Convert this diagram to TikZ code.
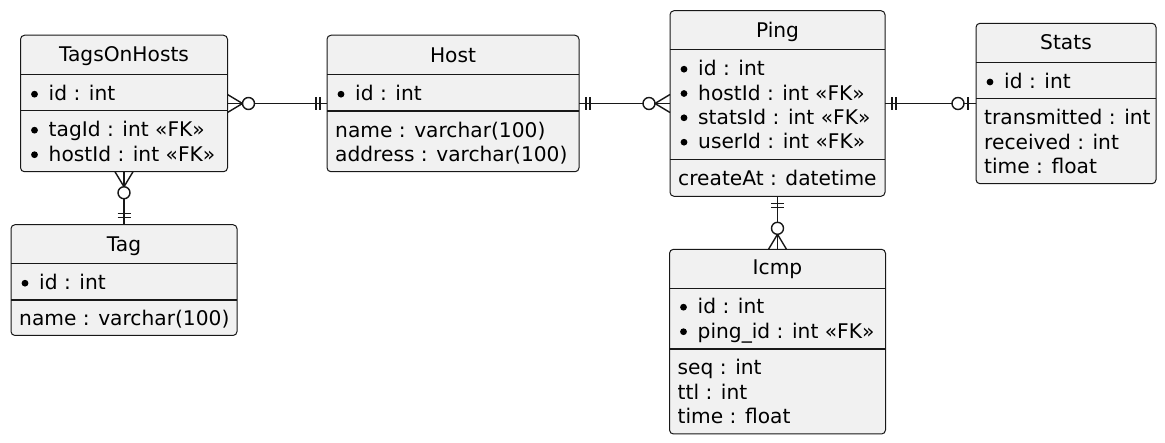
\documentclass[tikz,border=0pt]{standalone}
\usepackage{fontspec}
\setmainfont{DejaVu Sans}
\definecolor{boxfill}{HTML}{F1F1F1}
\definecolor{boxline}{HTML}{181818}
\tikzset{
 ent/.style={draw=boxline, fill=boxfill, line width=1pt, rounded corners=4pt, inner sep=0pt, outer sep=0pt, anchor=north west},
 ttl/.style={anchor=base, inner sep=0pt, font=\fontsize{20.2}{24}\selectfont},
 row/.style={anchor=base west, inner sep=0pt, font=\fontsize{20.2}{24}\selectfont},
 tsep/.style={draw=boxline, line width=0.8pt},
 ssep/.style={draw=boxline, line width=1.4pt},
 conn/.style={draw=boxline, line width=1.4pt},
 dot/.style={fill=black}
}
\newcommand\krow[4]{\fill[dot] (#2+14,#3-6.8) circle[radius=3.4pt]; \node[row] (#1) at (#2+28,#3) {#4};}
\newcommand\prow[4]{\node[row] (#1) at (#2+8,#3) {#4};}
\newcommand\zmany[3]{\begin{scope}[shift={(#1)},x={(#2)},y={(#3)}]
 \draw[conn] (0,-9) -- (15,0) -- (0,9);
 \draw[conn,fill=white] (21,0) circle[radius=6pt];
\end{scope}}
\newcommand\oone[3]{\begin{scope}[shift={(#1)},x={(#2)},y={(#3)}]
 \draw[conn] (7,-6.5) -- (7,6.5) (11,-6.5) -- (11,6.5);
\end{scope}}
\newcommand\zone[3]{\begin{scope}[shift={(#1)},x={(#2)},y={(#3)}]
 \draw[conn] (8,-6.5) -- (8,6.5);
 \draw[conn,fill=white] (18,0) circle[radius=6pt];
\end{scope}}
\begin{document}
\begin{tikzpicture}[x=1pt,y=-1pt]
\fill[white] (0,0) rectangle (1165,443);
\useasboundingbox (0,0) rectangle (1165,443);

% TagsOnHosts
\node[ent, minimum width=207pt, minimum height=136.5pt] (toh) at (20.5,35.25) {};
\node[ttl] (toh-t) at (124,62) {TagsOnHosts};
\draw[tsep] (20.5,74) -- (227.5,74);
\krow{toh-1}{20.5}{101}{id : int}
\draw[ssep] (20.5,110.7) -- (227.5,110.7);
\krow{toh-2}{20.5}{137}{tagId : int «FK»}
\krow{toh-3}{20.5}{161.5}{hostId : int «FK»}

% Host
\node[ent, minimum width=252pt, minimum height=136.5pt] (host) at (327,35.25) {};
\node[ttl] (host-t) at (453,62.3) {Host};
\draw[tsep] (327,74) -- (579,74);
\krow{host-1}{327}{101}{id : int}
\draw[ssep] (327,111) -- (579,111);
\prow{host-2}{327}{137.3}{name : varchar(100)}
\prow{host-3}{327}{161.8}{address : varchar(100)}

% Tag
\node[ent, minimum width=226pt, minimum height=110.8pt] (tag) at (11,224.7) {};
\node[ttl] (tag-t) at (124,251.3) {Tag};
\draw[tsep] (11,263.3) -- (237,263.3);
\krow{tag-1}{11}{290}{id : int}
\draw[ssep] (11,300) -- (237,300);
\prow{tag-2}{11}{326}{name : varchar(100)}

% Ping
\node[ent, minimum width=215pt, minimum height=185.6pt] (ping) at (670,10.7) {};
\node[ttl] (ping-t) at (777.5,37.3) {Ping};
\draw[tsep] (670,49.3) -- (885,49.3);
\krow{ping-1}{670}{76}{id : int}
\krow{ping-2}{670}{100.3}{hostId : int «FK»}
\krow{ping-3}{670}{124.6}{statsId : int «FK»}
\krow{ping-4}{670}{149}{userId : int «FK»}
\draw[ssep] (670,159.3) -- (885,159.3);
\prow{ping-5}{670}{185.3}{createAt : datetime}

% Stats
\node[ent, minimum width=180pt, minimum height=160.4pt] (stats) at (976,23.3) {};
\node[ttl] (stats-t) at (1066,50) {Stats};
\draw[tsep] (976,62.7) -- (1156,62.7);
\krow{stats-1}{976}{88.8}{id : int}
\draw[ssep] (976,98.7) -- (1156,98.7);
\prow{stats-2}{976}{125}{transmitted : int}
\prow{stats-3}{976}{149.3}{received : int}
\prow{stats-4}{976}{173.6}{time : float}

% Icmp
\node[ent, minimum width=216pt, minimum height=184.7pt] (icmp) at (669.5,249.3) {};
\node[ttl] (icmp-t) at (777.5,275) {Icmp};
\draw[tsep] (669.5,288.3) -- (885.5,288.3);
\krow{icmp-1}{669.5}{314}{id : int}
\krow{icmp-2}{669.5}{338.5}{ping\_id : int «FK»}
\draw[ssep] (669.5,349) -- (885.5,349);
\prow{icmp-3}{669.5}{375}{seq : int}
\prow{icmp-4}{669.5}{399.3}{ttl : int}
\prow{icmp-5}{669.5}{423.6}{time : float}

% connectors
\draw[conn] (toh.east) -- (host.west);
\draw[conn] (host.east) -- (ping.west);
\draw[conn] (ping.east) -- (stats.west);
\draw[conn] (ping.south) -- (icmp.north);
\draw[conn] (toh.south) -- (tag.north);

\zmany{toh.east}{1pt,0pt}{0pt,1pt}
\oone{host.west}{-1pt,0pt}{0pt,1pt}
\oone{host.east}{1pt,0pt}{0pt,1pt}
\zmany{ping.west}{-1pt,0pt}{0pt,1pt}
\oone{ping.east}{1pt,0pt}{0pt,1pt}
\zone{stats.west}{-1pt,0pt}{0pt,1pt}
\oone{ping.south}{0pt,-1pt}{1pt,0pt}
\zmany{icmp.north}{0pt,1pt}{1pt,0pt}
\zmany{toh.south}{0pt,-1pt}{1pt,0pt}
\oone{tag.north}{0pt,1pt}{1pt,0pt}
\end{tikzpicture}
\end{document}
